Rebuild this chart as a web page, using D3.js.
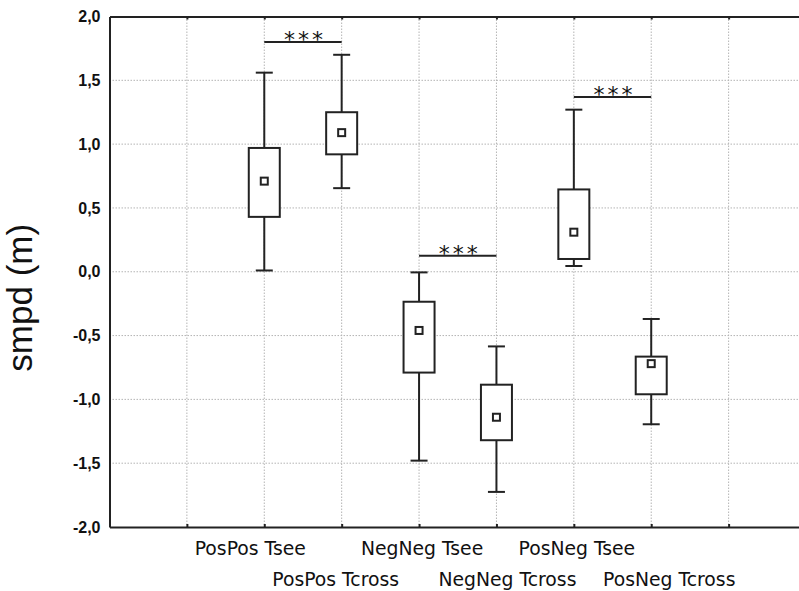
<!DOCTYPE html>
<html>
<head>
<meta charset="utf-8">
<script src="https://cdn.jsdelivr.net/npm/d3@7"></script>
<style>
  body { margin: 0; background: #fff; }
  svg { display: block; }
</style>
</head>
<body>
<div id="chart"></div>
<script>
// data
var categories = ["PosPos Tsee", "PosPos Tcross", "NegNeg Tsee", "NegNeg Tcross", "PosNeg Tsee", "PosNeg Tcross"];
var means = [0.71, 1.09, -0.46, -1.14, 0.31, -0.72];
var boxLow = [0.43, 0.92, -0.79, -1.32, 0.10, -0.96];
var boxHigh = [0.97, 1.25, -0.235, -0.885, 0.645, -0.665];
var whiskerLow = [0.01, 0.655, -1.48, -1.725, 0.045, -1.195];
var whiskerHigh = [1.56, 1.70, -0.005, -0.585, 1.27, -0.37];
var sigFrom = [0, 2, 4];
var sigTo = [1, 3, 5];
var sigLevel = [1.80, 0.125, 1.37];
var sigText = ["***", "***", "***"];
var yTicks = [-2.0, -1.5, -1.0, -0.5, 0.0, 0.5, 1.0, 1.5, 2.0];
var yTitle = "smpd (m)";

var svgWidth = 799;
var svgHeight = 591;
var margin = { top: 16.5, right: -7, bottom: 64, left: 109.5 };
var width = svgWidth - margin.left - margin.right;
var height = svgHeight - margin.top - margin.bottom;

var svg = d3.select("#chart")
  .append("svg")
  .attr("width", svgWidth)
  .attr("height", svgHeight);

var chart = svg.append("g")
  .attr("transform", `translate(${margin.left}, ${margin.top})`);

// 9 slots, categories sit on slots 2..7
var x = d3.scaleLinear().domain([0, 9]).range([0, width]);
var y = d3.scaleLinear().domain([-2, 2]).range([height, 0]);
var slot = function(i) { return x(i + 2); };

var locale = d3.formatLocale({ decimal: ",", thousands: ".", grouping: [3], currency: ["", ""], minus: "-" });
var fmt = locale.format(".1f");

var ink = "#222";
var gridColor = "#b4b4b4";

// grid
var gridX = d3.range(1, 9);
chart.selectAll(".vgrid").data(gridX).enter().append("line")
  .attr("x1", d => x(d)).attr("x2", d => x(d))
  .attr("y1", 0).attr("y2", height)
  .attr("stroke", gridColor).attr("stroke-width", 1)
  .attr("stroke-dasharray", "1.5,1.5");

chart.selectAll(".hgrid").data(yTicks.slice(1, -1)).enter().append("line")
  .attr("x1", 0).attr("x2", width)
  .attr("y1", d => y(d)).attr("y2", d => y(d))
  .attr("stroke", gridColor).attr("stroke-width", 1)
  .attr("stroke-dasharray", "1.5,1.5");

// axes
var leftAxis = d3.axisLeft(y).tickValues(yTicks).tickFormat(fmt).tickSize(0).tickPadding(9);
var gy = chart.append("g").call(leftAxis);
gy.select(".domain").attr("stroke", ink).attr("stroke-width", 2);
gy.selectAll("text")
  .attr("font-family", "Liberation Sans, Arial, sans-serif")
  .attr("font-weight", "bold")
  .attr("font-size", "16px")
  .attr("fill", "#111");

var bottomAxis = d3.axisBottom(x).tickValues(gridX).tickSize(-3).tickSizeOuter(0).tickFormat("");
var gb = chart.append("g").attr("transform", `translate(0, ${height})`).call(bottomAxis);
gb.select(".domain").attr("stroke", ink).attr("stroke-width", 2);
gb.selectAll(".tick line").attr("stroke", ink).attr("stroke-width", 2);

var topAxis = d3.axisTop(x).tickValues(gridX).tickSize(-3).tickSizeOuter(0).tickFormat("");
var gt = chart.append("g").call(topAxis);
gt.select(".domain").attr("stroke", ink).attr("stroke-width", 2);
gt.selectAll(".tick line").attr("stroke", ink).attr("stroke-width", 2);

// category labels, staggered on two rows
var labelShift = [-14, -6, 3, 11, 3, 18];
chart.selectAll(".catLabel").data(categories).enter().append("text")
  .attr("x", (d, i) => slot(i) + labelShift[i])
  .attr("y", (d, i) => height + (i % 2 === 0 ? 27.5 : 59))
  .attr("text-anchor", "middle")
  .attr("font-family", "DejaVu Sans, Verdana, sans-serif")
  .attr("font-size", "18.8px")
  .attr("fill", "#111")
  .text(d => d);

// boxes
var boxW = 31, capW = 17, markW = 7;
var boxes = chart.selectAll(".box").data(categories).enter().append("g");

boxes.append("line")
  .attr("x1", (d, i) => slot(i)).attr("x2", (d, i) => slot(i))
  .attr("y1", (d, i) => y(whiskerHigh[i])).attr("y2", (d, i) => y(boxHigh[i]))
  .attr("stroke", ink).attr("stroke-width", 2);
boxes.append("line")
  .attr("x1", (d, i) => slot(i)).attr("x2", (d, i) => slot(i))
  .attr("y1", (d, i) => y(boxLow[i])).attr("y2", (d, i) => y(whiskerLow[i]))
  .attr("stroke", ink).attr("stroke-width", 2);
boxes.append("line")
  .attr("x1", (d, i) => slot(i) - capW / 2).attr("x2", (d, i) => slot(i) + capW / 2)
  .attr("y1", (d, i) => y(whiskerHigh[i])).attr("y2", (d, i) => y(whiskerHigh[i]))
  .attr("stroke", ink).attr("stroke-width", 2);
boxes.append("line")
  .attr("x1", (d, i) => slot(i) - capW / 2).attr("x2", (d, i) => slot(i) + capW / 2)
  .attr("y1", (d, i) => y(whiskerLow[i])).attr("y2", (d, i) => y(whiskerLow[i]))
  .attr("stroke", ink).attr("stroke-width", 2);
boxes.append("rect")
  .attr("x", (d, i) => slot(i) - boxW / 2)
  .attr("y", (d, i) => y(boxHigh[i]))
  .attr("width", boxW)
  .attr("height", (d, i) => y(boxLow[i]) - y(boxHigh[i]))
  .attr("fill", "#fff").attr("stroke", ink).attr("stroke-width", 2);
boxes.append("rect")
  .attr("x", (d, i) => slot(i) - markW / 2)
  .attr("y", (d, i) => y(means[i]) - markW / 2)
  .attr("width", markW).attr("height", markW)
  .attr("fill", "#fff").attr("stroke", ink).attr("stroke-width", 2);

// significance bars
var sig = chart.selectAll(".sig").data(sigText).enter().append("g");
sig.append("line")
  .attr("x1", (d, i) => slot(sigFrom[i])).attr("x2", (d, i) => slot(sigTo[i]))
  .attr("y1", (d, i) => y(sigLevel[i])).attr("y2", (d, i) => y(sigLevel[i]))
  .attr("stroke", ink).attr("stroke-width", 2);
sig.append("text")
  .attr("x", (d, i) => (slot(sigFrom[i]) + slot(sigTo[i])) / 2 + 2)
  .attr("y", (d, i) => y(sigLevel[i]) + 5)
  .attr("text-anchor", "middle")
  .attr("font-family", "DejaVu Sans, sans-serif")
  .attr("font-size", "22px")
  .attr("letter-spacing", "3px")
  .attr("fill", "#111")
  .text(d => d);

// y title
svg.append("text")
  .attr("transform", `translate(32, ${margin.top + y(0) + 26}) rotate(-90)`)
  .attr("text-anchor", "middle")
  .attr("font-family", "Liberation Sans, Arial, sans-serif")
  .attr("font-size", "35px")
  .attr("fill", "#111")
  .text(yTitle);
</script>
</body>
</html>
